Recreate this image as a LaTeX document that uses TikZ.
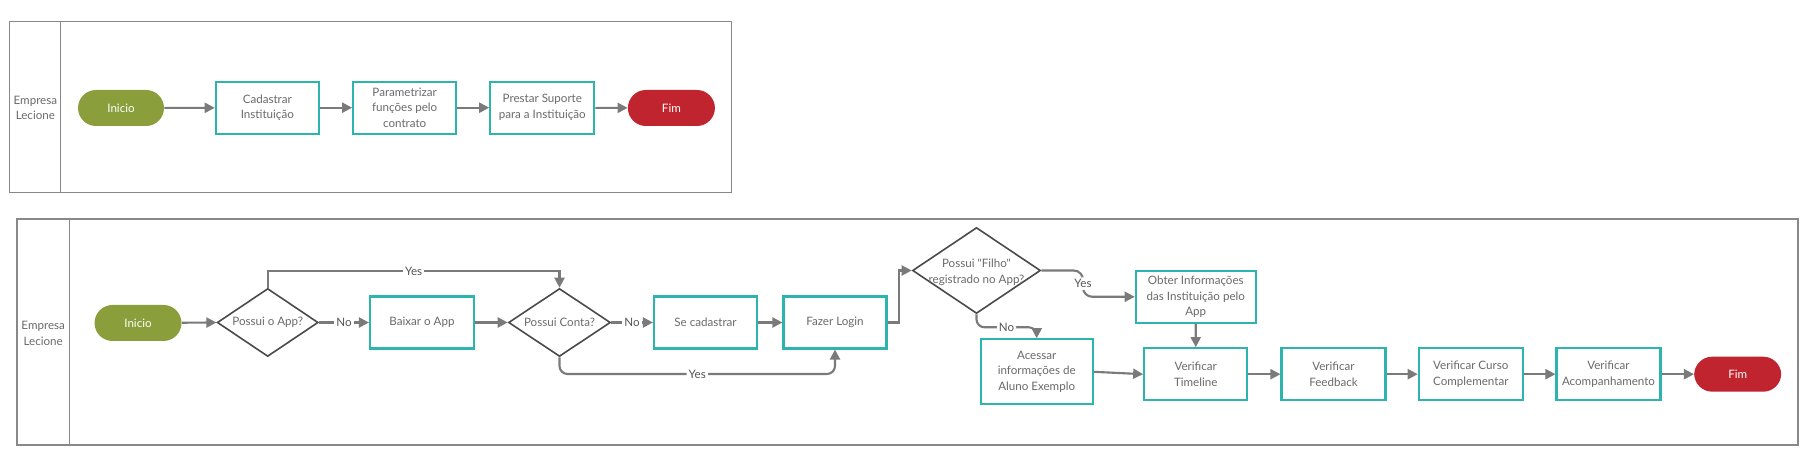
\documentclass[tikz,border=0pt]{standalone}
\usepackage{fontspec}
\setmainfont{Lato}[Ligatures=TeXOff]
\usetikzlibrary{arrows.meta,shapes.geometric}
\definecolor{tealc}{HTML}{2DB4AF}
\definecolor{greenc}{HTML}{8A9F3B}
\definecolor{redc}{HTML}{C0242F}
\definecolor{arrc}{HTML}{7A7A7A}
\definecolor{diac}{HTML}{4A4A4A}
\definecolor{poolc}{HTML}{888888}
\definecolor{txtc}{HTML}{6A6A6A}
\definecolor{lblc}{HTML}{555555}
\begin{document}
\begin{tikzpicture}[x=0.75pt,y=-0.75pt,
  every node/.style={font=\fontsize{8.7}{11.8}\selectfont},
  box/.style={draw=tealc, line width=1.6pt, fill=white, minimum width=77.25pt, minimum height=39pt, align=center, text=txtc, inner sep=1pt},
  term/.style={rounded corners=13.5pt, minimum width=65.25pt, minimum height=27pt, text=white, inner sep=1pt},
  dia/.style={diamond, draw=diac, line width=1.2pt, minimum width=75.75pt, minimum height=51pt, inner sep=0pt},
  dtext/.style={align=center, text=txtc, inner sep=0pt},
  lane/.style={align=center, text=txtc, inner sep=0pt},
  conn/.style={draw=arrc, line width=1.6pt, -{Triangle[length=7.5pt,width=7.5pt]}},
  lbl/.style={fill=white, text=lblc, inner sep=1.5pt},
  pool/.style={draw=poolc, line width=1.2pt}
]
\useasboundingbox (0,0) rectangle (1811,473);

% ---------- top pool ----------
\draw[pool] (9.4,21.7) rectangle (731.6,192.7);
\draw[pool] (60.4,21.7) -- (60.4,192.7);
\node[lane] (lane1) at (35.4,108) {Empresa\\Lecione};

\node[term, fill=greenc, minimum width=64.5pt] (ini1) at (121,108) {Inicio};
\node[box] (cad) at (267.3,107.7) {Cadastrar\\Instituição};
\node[box] (par) at (404.7,107.7) {Parametrizar\\funções pelo\\contrato};
\node[box, minimum width=78pt] (pre) at (542.3,107.7) {Prestar Suporte\\para a Instituição};
\node[term, fill=redc] (fim1) at (671.4,108) {Fim};

\draw[conn] (ini1) -- (cad);
\draw[conn] (cad) -- (par);
\draw[conn] (par) -- (pre);
\draw[conn] (pre) -- (fim1);

% ---------- bottom pool ----------
\draw[pool] (17.2,219.3) rectangle (1797.7,445);
\draw[pool] (69.3,219.3) -- (69.3,445);
\node[lane] (lane2) at (43.2,333.3) {Empresa\\Lecione};

\node[term, fill=greenc] (ini2) at (138,323) {Inicio};
\node[dia] (d1) at (267.7,322.5) {};
\node[dtext] (d1t) at (d1) {Possui o App?};
\node[box, minimum width=78pt] (bai) at (422,322.5) {Baixar o App};
\node[dia, minimum width=76.5pt] (d2) at (559.5,322.5) {};
\node[dtext] (d2t) at (d2) {Possui Conta?};
\node[box] (sec) at (705.5,322.5) {Se cadastrar};
\node[box] (faz) at (835,322.5) {Fazer Login};
\node[dia, minimum width=96pt, minimum height=64.5pt] (d3) at (976.5,270.5) {};
\node[dtext] (d3t) at (976.5,272) {Possui "Filho"\\registrado no App?};
\node[box, minimum width=84pt, minimum height=48.75pt] (ace) at (1036.7,371.8) {Acessar\\informações de\\Aluno Exemplo};
\node[box, minimum width=90pt] (obt) at (1195.8,296.8) {Obter Informações\\das Instituição pelo\\App};
\node[box] (tim) at (1195.7,374.2) {Verificar\\Timeline};
\node[box, minimum width=78pt] (fee) at (1333.5,374.2) {Verificar\\Feedback};
\node[box, minimum width=78pt] (cur) at (1470.8,374.2) {Verificar Curso\\Complementar};
\node[box, minimum width=78pt] (aco) at (1608.5,374.2) {Verificar\\Acompanhamento};
\node[term, fill=redc, minimum height=26.25pt] (fim2) at (1737.7,374.2) {Fim};

\coordinate (ytop) at (0,271);
\coordinate (ybot) at (0,374);
\coordinate (xup) at (899,0);
\coordinate (xyes) at (1083,0);
\coordinate (yno) at (0,327.3);

\draw[conn] (ini2) -- (d1.west);
\draw[conn] (d1.east) -- node[lbl]{No} (bai.west);
\draw[conn] (d1.north) -- (d1.north |- ytop) -| node[lbl, pos=0.25]{Yes} (d2.north);
\draw[conn] (bai) -- (d2.west);
\draw[conn] (d2.east) -- node[lbl]{No} (sec.west);
\draw[conn] (sec) -- (faz);
\draw[conn, rounded corners=6pt] (d2.south) -- (d2.south |- ybot) -| node[lbl, pos=0.25]{Yes} (faz.south);
\draw[conn] (faz.east) -- (faz.east -| xup) |- (d3.west);
\draw[conn, rounded corners=6pt] (d3.south) |- node[lbl, pos=0.75]{No} (ace.north |- yno) -- (ace.north);
\draw[conn, rounded corners=7pt] (d3.east) -- (d3.east -| xyes) |- node[lbl, pos=0.25]{Yes} (obt.west);
\draw[conn] (obt) -- (tim);
\draw[conn] (ace.east) -- (tim.west);
\draw[conn] (tim) -- (fee);
\draw[conn] (fee) -- (cur);
\draw[conn] (cur) -- (aco);
\draw[conn] (aco.east) -- (fim2.west);
\end{tikzpicture}
\end{document}
